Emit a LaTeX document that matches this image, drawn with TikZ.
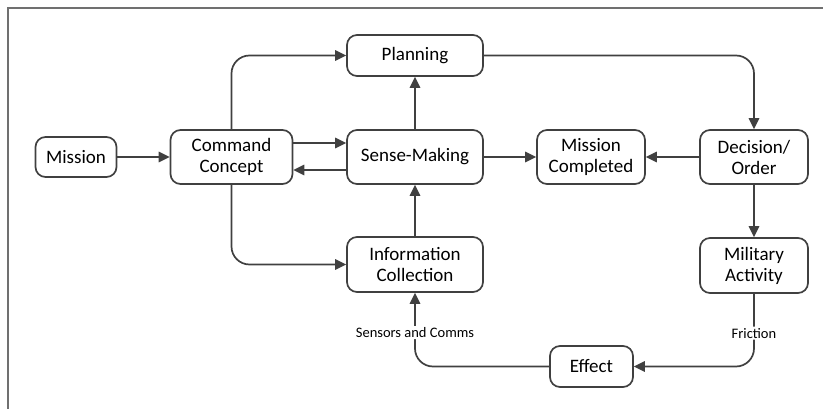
\documentclass[tikz,border=0pt]{standalone}
\usepackage{fontspec}
\setmainfont{Carlito}
\usetikzlibrary{arrows.meta}
\definecolor{ink}{HTML}{404040}
\definecolor{framegray}{HTML}{707070}
\begin{document}
\begin{tikzpicture}[x=1pt,y=-1pt,
  box/.style={draw=ink, line width=1.7pt, rounded corners=10pt, align=center,
    inner sep=0pt, text=black, font=\fontsize{19}{21}\selectfont},
  arr/.style={draw=ink, line width=1.7pt, -{Triangle[length=11pt,width=10.5pt]}},
  lbl/.style={fill=white, inner sep=1.5pt, text=black, font=\fontsize{14.5}{16}\selectfont}]
\useasboundingbox (0,0) rectangle (823,409);
% outer frame
\draw[framegray, line width=1.6pt] (823,8) -- (8,8) -- (8,409);
% boxes
\node[box, minimum width=81pt, minimum height=40pt] (mission) at (76,157) {Mission};
\node[box, minimum width=122pt, minimum height=54pt] (cc) at (231.5,157) {Command\\Concept};
\node[box, minimum width=136pt, minimum height=41pt] (plan) at (415,55.5) {Planning};
\node[box, minimum width=136pt, minimum height=54pt] (sm) at (415,157) {Sense-Making};
\node[box, minimum width=108pt, minimum height=54pt] (mc) at (591,157) {Mission\\Completed};
\node[box, minimum width=108pt, minimum height=54pt] (dec) at (754,157) {Decision/\\Order};
\node[box, minimum width=108pt, minimum height=55pt] (ma) at (754,265.5) {Military\\Activity};
\node[box, minimum width=136pt, minimum height=55pt] (ic) at (415,264.5) {Information\\Collection};
\node[box, minimum width=83pt, minimum height=41pt] (eff) at (591.5,366.5) {Effect};
% connectors
\draw[arr] (mission) -- (cc);
\draw[arr, rounded corners=18pt] (cc.north) |- (plan.west);
\draw[arr] ([yshift=14pt]cc.east) -- ([yshift=14pt]sm.west);
\draw[arr] ([yshift=-13pt]sm.west) -- ([yshift=-13pt]cc.east);
\draw[arr] (sm) -- (plan);
\draw[arr] (sm) -- (mc);
\draw[arr, rounded corners=18pt] (plan.east) -| (dec.north);
\draw[arr] (dec) -- (mc);
\draw[arr] (dec) -- (ma);
\draw[arr, rounded corners=18pt] (cc.south) |- (ic.west);
\draw[arr] (ic) -- (sm);
\draw[arr, rounded corners=18pt] (ma.south) |- node[lbl, pos=0.27] {Friction} (eff.east);
\draw[arr, rounded corners=18pt] (eff.west) -| node[lbl, pos=0.73] {Sensors and Comms} (ic.south);
\end{tikzpicture}
\end{document}
